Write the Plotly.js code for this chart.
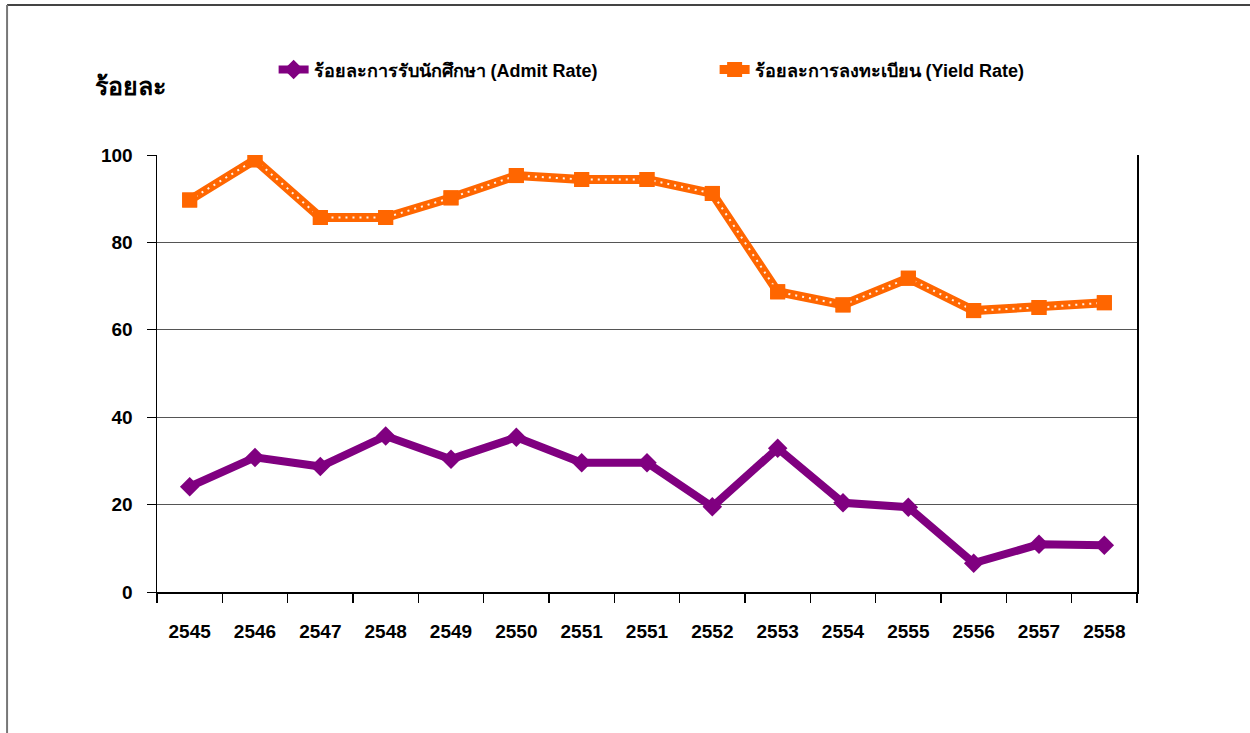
<!DOCTYPE html>
<html>
<head>
<meta charset="utf-8">
<script src="https://cdn.plot.ly/plotly-3.0.1.min.js"></script>
<style>
html,body{margin:0;padding:0;background:#fff;}
#chart{width:1250px;height:733px;}
</style>
</head>
<body>
<div id="chart"></div>
<script>
const years = ["2545","2546","2547","2548","2549","2550","2551","2551","2552","2553","2554","2555","2556","2557","2558"];
const admitRate = [24.1, 30.8, 28.7, 35.7, 30.4, 35.4, 29.6, 29.6, 19.5, 32.9, 20.4, 19.4, 6.6, 10.9, 10.7];
const yieldRate = [89.7, 98.9, 85.7, 85.7, 90.2, 95.3, 94.4, 94.4, 91.2, 68.7, 65.7, 71.8, 64.4, 65.1, 66.2];
const admitName = "ร้อยละการรับนักศึกษา (Admit Rate)";
const yieldName = "ร้อยละการลงทะเบียน (Yield Rate)";
const yTitle = "ร้อยละ";
const yTicks = [0, 20, 40, 60, 80, 100];

const idx = years.map((_, i) => i);
const FONT = "Arial, 'Liberation Sans', 'Noto Sans', sans-serif";

const traces = [
  {
    x: idx, y: admitRate, name: admitName, mode: "lines+markers",
    line: {color: "#800080", width: 8},
    marker: {symbol: "diamond", size: 15, color: "#800080"}
  },
  {
    x: idx, y: yieldRate, name: yieldName, mode: "lines+markers",
    line: {color: "#FF6600", width: 9},
    marker: {symbol: "square", size: 15, color: "#FF6600"}
  },
  {
    x: idx, y: yieldRate, mode: "lines", showlegend: false, hoverinfo: "skip",
    line: {color: "#FFF2E8", width: 2, dash: "2px,5px"}
  },
  {
    x: idx, y: yieldRate, mode: "markers", showlegend: false, hoverinfo: "skip",
    marker: {symbol: "square", size: 15, color: "#FF6600"}
  }
];

const layout = {
  width: 1250, height: 733,
  margin: {l: 157, r: 113, t: 155, b: 141},
  paper_bgcolor: "#fff", plot_bgcolor: "#fff",
  font: {family: FONT, color: "#000"},
  showlegend: true,
  legend: {
    orientation: "h", x: 0.119, xanchor: "left", y: 1.195, yanchor: "middle",
    font: {family: FONT, size: 18, color: "#000", weight: "bold"},
    entrywidth: 396, tracegroupgap: 0
  },
  xaxis: {
    range: [-0.5, 14.5],
    tickmode: "array", tickvals: idx, ticktext: years,
    ticks: "", showgrid: false, zeroline: false,
    showline: true, linecolor: "#000", linewidth: 1.5,
    ticklabelstandoff: 22,
    tickfont: {family: FONT, size: 19, color: "#000", weight: "bold"},
    minor: {tickmode: "linear", tick0: -0.5, dtick: 1, ticks: "outside", ticklen: 9, tickcolor: "#000", tickwidth: 1.5, showgrid: false},
    fixedrange: true
  },
  yaxis: {
    range: [0, 100],
    tickmode: "array", tickvals: yTicks,
    ticks: "outside", ticklen: 9, tickcolor: "#000", tickwidth: 1,
    showgrid: true, gridcolor: "#555", gridwidth: 1,
    zeroline: false,
    showline: true, linecolor: "#000", linewidth: 1.5, mirror: true,
    ticklabelstandoff: 10,
    tickfont: {family: FONT, size: 19, color: "#000", weight: "bold"},
    fixedrange: true
  },
  annotations: [{
    text: yTitle, xref: "paper", yref: "paper",
    x: -0.065, y: 1.158, xanchor: "left", yanchor: "middle",
    showarrow: false,
    font: {family: FONT, size: 25, color: "#000", weight: "bold"}
  }],
  shapes: [
    {type: "line", xref: "paper", yref: "paper", x0: -0.153, x1: 1.2, y0: 1.343, y1: 1.343, line: {color: "#444", width: 2}},
    {type: "line", xref: "paper", yref: "paper", x0: -0.153, x1: -0.153, y0: 1.343, y1: -0.33, line: {color: "#777", width: 2}}
  ]
};

Plotly.newPlot("chart", traces, layout, {displayModeBar: false, staticPlot: true});
</script>
</body>
</html>
